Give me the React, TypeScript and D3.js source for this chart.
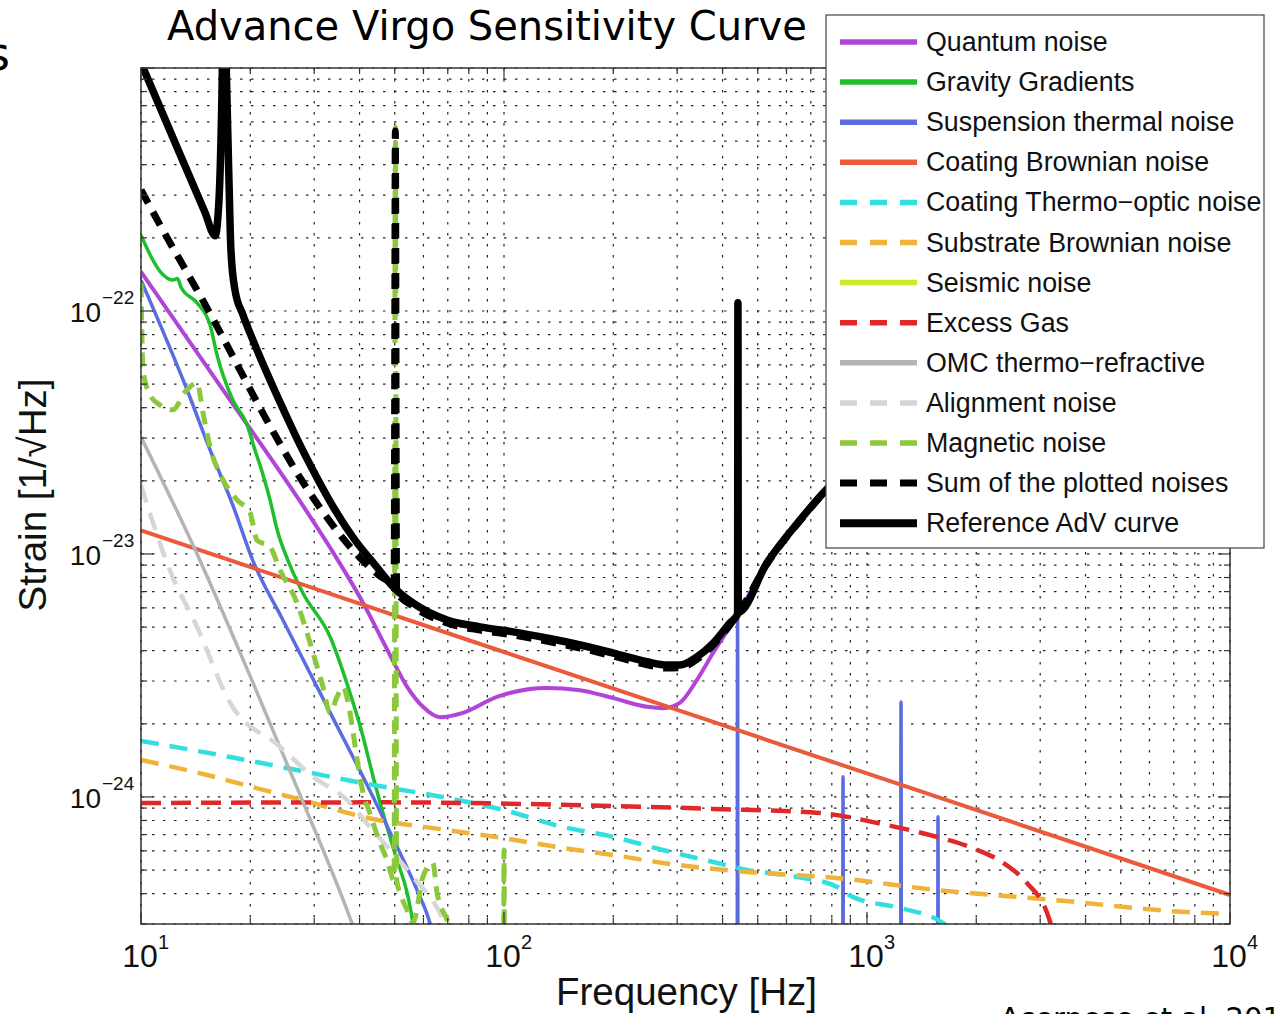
import React from 'react';
import * as d3 from 'd3';

type Pt = [number, number];

// values: [frequency Hz, strain 1/sqrt(Hz)]
const quantumNoise: Pt[] = [
  [10, 1.45e-22], [17.6, 4.3e-23], [26.9, 1.72e-23], [33.2, 1.06e-23], [40.9, 6.29e-24],
  [48.5, 3.84e-24], [54.1, 2.84e-24], [59.8, 2.35e-24], [66.6, 2.13e-24], [77.1, 2.22e-24],
  [95.6, 2.58e-24], [131, 2.81e-24], [162, 2.75e-24], [200, 2.55e-24], [248, 2.35e-24],
  [274, 2.32e-24], [305, 2.44e-24], [340, 3.03e-24], [377, 3.92e-24], [419, 5.01e-24],
  [530, 9.0e-24], [654, 1.36e-23], [757, 1.76e-23], [1000, 2.5e-23], [10000, 2.5e-22],
];

const gravityGradients: Pt[] = [
  [10, 2.05e-22], [11.5, 1.41e-22], [12.25, 1.34e-22], [12.6, 1.36e-22], [12.9, 1.25e-22],
  [14.27, 1.08e-22], [15.5, 8.75e-23], [16.2, 6.59e-23], [17.9, 4.3e-23], [19.6, 3.4e-23],
  [20.6, 2.68e-23], [21.7, 2.11e-23], [22.67, 1.67e-23], [23.7, 1.26e-23], [25.7, 9.02e-24],
  [27.9, 6.92e-24], [33.2, 4.55e-24], [36.9, 2.94e-24], [40.9, 1.77e-24], [43.6, 1.21e-24],
  [47.6, 7.53e-25], [50.7, 5.51e-25], [54.1, 4.03e-25], [56.1, 3.03e-25], [58, 2e-25],
];

const suspensionThermal: Pt[] = [
  [10, 1.34e-22], [13.4, 4.73e-23], [15.5, 2.68e-23], [17.9, 1.59e-23], [20.3, 9.44e-24],
  [24.6, 5.35e-24], [33.8, 2.11e-24], [40.9, 1.21e-24], [49.4, 6.78e-25], [57.6, 4.14e-25],
  [62.5, 3.03e-25], [66.6, 2e-25], [100, 3e-26],
  [438, 1e-27], [440, 5.5e-24], [442, 1e-27],
  [855, 1e-27], [859, 1.21e-24], [863, 1e-27],
  [1235, 1e-27], [1241, 2.46e-24], [1247, 1e-27],
  [1562, 1e-27], [1569, 8.28e-25], [1576, 1e-27], [10000, 1e-27],
];

const coatingBrownian: Pt[] = [
  [10, 1.25e-23], [100, 3.95e-24], [1000, 1.25e-24], [10000, 3.95e-25],
];

const coatingThermoOptic: Pt[] = [
  [10, 1.7e-24], [17.6, 1.46e-24], [26.9, 1.29e-24], [40.9, 1.14e-24], [69.7, 9.91e-25],
  [99.4, 8.85e-25], [145, 7.53e-25], [200, 6.85e-25], [274, 6.05e-25], [377, 5.4e-25],
  [467, 5.01e-25], [639, 4.69e-25], [825, 4.27e-25], [912, 3.88e-25], [1236, 3.49e-25],
  [1569, 3.12e-25], [1800, 2.7e-25], [3000, 1.5e-25],
];

const substrateBrownian: Pt[] = [
  [10, 1.42e-24], [14.27, 1.26e-24], [21.7, 1.07e-24], [29.8, 9.44e-25], [40.9, 8.28e-25],
  [69.7, 7.31e-25], [99.4, 6.78e-25], [145, 6.17e-25], [200, 5.77e-25], [274, 5.35e-25],
  [467, 4.91e-25], [825, 4.64e-25], [1558, 4.14e-25], [3265, 3.77e-25], [7560, 3.36e-25],
  [10000, 3.3e-25],
];

// seismic noise stays outside the plotted window
const seismicNoise: Pt[] = [];

const excessGas: Pt[] = [
  [10, 9.44e-25], [45.5, 9.5e-25], [200, 9.18e-25], [377, 8.93e-25], [740, 8.59e-25],
  [1130, 7.67e-25], [1558, 6.85e-25], [1920, 6.22e-25], [2375, 5.35e-25], [2760, 4.42e-25],
  [3135, 3.33e-25], [3300, 2.6e-25],
];

const omcThermoRefractive: Pt[] = [
  [10, 3.03e-23], [14.27, 1e-23], [19.97, 3.15e-24], [27.42, 1.02e-24], [38.1, 3.03e-25], [42, 2e-25],
];

const alignmentNoise: Pt[] = [
  [10, 1.92e-23], [12.0, 8.59e-24], [14.27, 5.01e-24], [17.6, 2.44e-24], [24.15, 1.61e-24],
  [29.8, 1.21e-24], [36.9, 9.73e-25], [42.7, 7.53e-25], [56.1, 4.69e-25], [66.6, 3.33e-25],
  [70.9, 2.7e-25],
];

const magneticNoise: Pt[] = [
  [10, 1.3e-22], [10.13, 5.71e-23], [10.59, 4.51e-23], [11.28, 4.1e-23], [12.25, 3.92e-23],
  [13.22, 4.64e-23], [14.27, 5.06e-23], [14.82, 3.8e-23], [15.5, 2.75e-23], [16.82, 2.02e-23],
  [18.39, 1.67e-23], [19.97, 1.48e-23], [20.87, 1.14e-23], [22.67, 1.07e-23], [24.15, 8.59e-24],
  [26.9, 6.29e-24], [28.67, 4.73e-24], [29.77, 3.92e-24], [31.72, 2.84e-24], [33.17, 2.22e-24],
  [34.67, 2.58e-24], [36.0, 2.84e-24], [37.65, 2.22e-24], [39.4, 1.42e-24], [40.9, 1.04e-24],
  [42.7, 8.59e-25], [45.5, 6.47e-25], [47.6, 5.51e-25], [49.8, 4.55e-25], [50.2, 5.71e-22],
  [50.6, 4.55e-25], [51.7, 4.03e-25], [54.06, 3.43e-25], [56.1, 3.03e-25], [59.8, 4.69e-25],
  [63.7, 5.35e-25], [65.4, 4.03e-25], [69.7, 3.12e-25], [73.3, 2.5e-25], [99.4, 1e-26],
  [100, 6.05e-25], [100.6, 1e-26], [200, 1e-27],
];

const sumOfNoises: Pt[] = [
  [10, 3.15e-22], [11.28, 2.26e-22], [12.8, 1.62e-22], [14.54, 1.16e-22], [16.5, 8.2e-23],
  [18.74, 5.71e-23], [21.28, 3.99e-23], [24.15, 2.84e-23], [27.42, 2.06e-23], [31.13, 1.55e-23],
  [35.34, 1.2e-23], [40.12, 9.64e-24], [45.5, 8.11e-24], [49.4, 7.38e-24], [49.8, 7.2e-24],
  [50.2, 5.5e-22], [50.6, 7.0e-24], [56.1, 6.1e-24], [69.7, 5.2e-24],
  [85.9, 4.86e-24], [106, 4.64e-24], [131, 4.38e-24], [162, 4.1e-24], [200, 3.8e-24],
  [248, 3.5e-24], [281, 3.39e-24], [305, 3.4e-24], [340, 3.68e-24], [377, 4.22e-24],
  [419, 5.1e-24], [441, 5.65e-24], [530, 9.1e-24], [654, 1.37e-23], [757, 1.77e-23],
  [1000, 2.55e-23], [2000, 5.1e-23], [5000, 1.27e-22], [10000, 2.55e-22],
];

const referenceAdV: Pt[] = [
  [10, 1.05e-21], [12.8, 4.43e-22], [15.0, 2.55e-22], [16.0, 2.04e-22], [16.4, 2.87e-22],
  [16.7, 7.4e-22], [16.95, 3e-21], [17.2, 9e-22], [17.47, 3.46e-22], [17.69, 1.78e-22],
  [18.15, 1.22e-22], [19.1, 9.63e-23], [20.61, 7.24e-23], [22.67, 5.2e-23], [24.93, 3.8e-23],
  [27.42, 2.81e-23], [30.53, 2.06e-23], [34.22, 1.52e-23], [38.86, 1.14e-23], [44.12, 9.02e-24],
  [49.6, 7.31e-24], [56.1, 6.29e-24], [69.7, 5.35e-24], [85.9, 5.01e-24], [106, 4.78e-24],
  [131, 4.51e-24], [162, 4.22e-24], [200, 3.91e-24], [248, 3.6e-24], [281, 3.49e-24],
  [305, 3.49e-24], [340, 3.77e-24], [377, 4.3e-24], [419, 5.2e-24], [440, 5.65e-24],
  [441, 1.08e-22], [442, 5.75e-24], [530, 9.19e-24], [654, 1.38e-23], [757, 1.78e-23],
  [1000, 2.6e-23], [2000, 5.2e-23], [5000, 1.3e-22], [10000, 2.6e-22],
];

const xDecades = [1, 2, 3, 4];
const yDecades = [-24, -23, -22];

const series = [
  { name: 'Quantum noise', data: quantumNoise, color: '#b045d8', width: 4, dash: '' },
  { name: 'Gravity Gradients', data: gravityGradients, color: '#1fbe2c', width: 3.5, dash: '' },
  { name: 'Suspension thermal noise', data: suspensionThermal, color: '#5b6be0', width: 3.5, dash: '' },
  { name: 'Coating Brownian noise', data: coatingBrownian, color: '#ec5a3c', width: 4, dash: '' },
  { name: 'Coating Thermo\u2212optic noise', data: coatingThermoOptic, color: '#33dede', width: 4.5, dash: '18,11' },
  { name: 'Substrate Brownian noise', data: substrateBrownian, color: '#f0b33a', width: 4.5, dash: '18,11' },
  { name: 'Seismic noise', data: seismicNoise, color: '#cdea2a', width: 4, dash: '' },
  { name: 'Excess Gas', data: excessGas, color: '#e0282a', width: 4.5, dash: '20,10' },
  { name: 'OMC thermo\u2212refractive', data: omcThermoRefractive, color: '#b4b4b4', width: 3.5, dash: '' },
  { name: 'Alignment noise', data: alignmentNoise, color: '#d6d6d6', width: 4.5, dash: '18,11' },
  { name: 'Magnetic noise', data: magneticNoise, color: '#8cc83c', width: 5, dash: '14,9' },
  { name: 'Sum of the plotted noises', data: sumOfNoises, color: '#000', width: 7, dash: '15,10' },
  { name: 'Reference AdV curve', data: referenceAdV, color: '#000', width: 7.5, dash: '' },
];

const W = 1277;
const H = 1014;
const margin = { top: 68, right: 47, bottom: 90, left: 141 };
const innerW = W - margin.left - margin.right;
const innerH = H - margin.top - margin.bottom;

const sans = '"Liberation Sans", Arial, Helvetica, sans-serif';
const verdana = '"DejaVu Sans", Verdana, sans-serif';

export default function App() {
  const x = d3.scaleLog().domain([10, 10000]).range([margin.left, margin.left + innerW]);
  const y = d3.scaleLog().domain([3e-25, 1e-21]).range([margin.top + innerH, margin.top]);

  const line = d3.line<Pt>()
    .x(d => x(d[0]))
    .y(d => y(d[1]))
    .curve(d3.curveMonotoneX);

  const left = margin.left;
  const right = margin.left + innerW;
  const top = margin.top;
  const bottom = margin.top + innerH;

  const xTicks = x.ticks();
  const yTicks = y.ticks();
  const isMajor = (v: number) => Math.abs(Math.log10(v) - Math.round(Math.log10(v))) < 1e-6;

  const legendX = 826;
  const legendY = 15;
  const rowH = 40.1;

  return (
    <svg width={W} height={H} style={{ position: 'absolute', left: 0, top: 0, background: '#fff' }}>
      <defs>
        <clipPath id="plot-clip">
          <rect x={left} y={top} width={innerW} height={innerH} />
        </clipPath>
      </defs>

      {/* cut-off text from the slide */}
      <text x={-14} y={70} fontFamily={verdana} fontSize={46} fill="#000">s</text>
      <text x={1000} y={1028} fontFamily={verdana} fontSize={29} fill="#000">Acernese et al. 2015</text>

      <text x={167} y={40} fontFamily={verdana} fontSize={40} fill="#000">
        Advance Virgo Sensitivity Curve
      </text>

      {/* grid */}
      <g stroke="#222" strokeWidth={1.2} strokeDasharray="2.5,8.5">
        {xTicks.map((t, i) => (
          <line key={'gx' + i} x1={x(t)} x2={x(t)} y1={top} y2={bottom} />
        ))}
        {yTicks.map((t, i) => (
          <line key={'gy' + i} x1={left} x2={right} y1={y(t)} y2={y(t)} />
        ))}
      </g>

      {/* curves */}
      <g clipPath="url(#plot-clip)" fill="none" strokeLinejoin="round">
        {series.filter(s => s.data.length > 1).map(s => (
          <path
            key={s.name}
            d={line(s.data) ?? ''}
            stroke={s.color}
            strokeWidth={s.width}
            strokeDasharray={s.dash || undefined}
          />
        ))}
      </g>

      {/* ticks */}
      <g stroke="#333" strokeWidth={1.2}>
        {xTicks.map((t, i) => {
          const len = isMajor(t) ? 12 : 6;
          return (
            <g key={'tx' + i}>
              <line x1={x(t)} x2={x(t)} y1={bottom} y2={bottom - len} />
              <line x1={x(t)} x2={x(t)} y1={top} y2={top + len} />
            </g>
          );
        })}
        {yTicks.map((t, i) => {
          const len = isMajor(t) ? 12 : 6;
          return (
            <g key={'ty' + i}>
              <line x1={left} x2={left + len} y1={y(t)} y2={y(t)} />
              <line x1={right} x2={right - len} y1={y(t)} y2={y(t)} />
            </g>
          );
        })}
      </g>

      <rect x={left} y={top} width={innerW} height={innerH} fill="none" stroke="#333" strokeWidth={1.5} />

      {/* tick labels */}
      <g fontFamily={sans} fill="#111">
        {xDecades.map(d => (
          <g key={'xl' + d}>
            <text x={x(Math.pow(10, d)) - 1} y={967} fontSize={32} textAnchor="middle">10</text>
            <text x={x(Math.pow(10, d)) + 17} y={949} fontSize={20}>{d}</text>
          </g>
        ))}
        {yDecades.map(d => (
          <g key={'yl' + d}>
            <text x={101} y={y(Math.pow(10, d)) + 11} fontSize={28} textAnchor="end">10</text>
            <text x={102} y={y(Math.pow(10, d)) - 7} fontSize={19}>{'\u2212' + Math.abs(d)}</text>
          </g>
        ))}
      </g>

      {/* axis titles */}
      <text x={(left + right) / 2 + 1} y={1005} fontFamily={sans} fontSize={38.5} textAnchor="middle" fill="#111">
        Frequency [Hz]
      </text>
      <text
        transform={`translate(46,${(top + bottom) / 2 - 1}) rotate(-90)`}
        fontFamily={sans}
        fontSize={38.5}
        textAnchor="middle"
        fill="#111"
      >
        Strain [1/√Hz]
      </text>

      {/* legend */}
      <rect x={legendX} y={legendY} width={438} height={533} fill="#fff" stroke="#444" strokeWidth={1.2} />
      <g fontFamily={sans} fontSize={26.8} fill="#111">
        {series.map((s, i) => {
          const cy = 42 + i * rowH;
          return (
            <g key={'lg' + s.name}>
              <line
                x1={840}
                x2={917}
                y1={cy}
                y2={cy}
                stroke={s.color}
                strokeWidth={s.name.startsWith('Reference') ? 8 : s.name.startsWith('Sum') ? 7 : 5.5}
                strokeDasharray={s.dash ? '17,13' : undefined}
              />
              <text x={926} y={cy + 9}>{s.name}</text>
            </g>
          );
        })}
      </g>
    </svg>
  );
}
